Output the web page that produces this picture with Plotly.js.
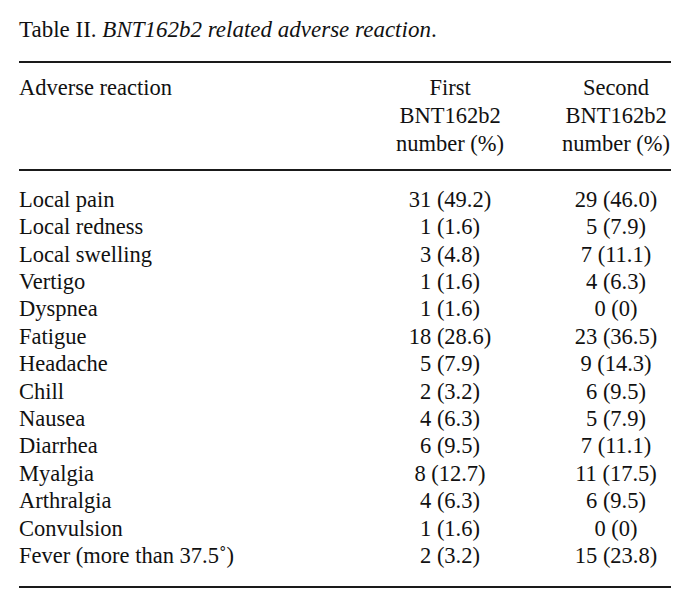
<!DOCTYPE html>
<html>
<head>
<meta charset="utf-8">
<script src="https://cdn.plot.ly/plotly-3.0.1.min.js"></script>
<style>
html,body{margin:0;padding:0;background:#fff;}
#chart{width:696px;height:612px;}
#chart .table text, #chart .table tspan{font-family:"Liberation Serif", "Times New Roman", serif !important;}
</style>
</head>
<body>
<div id="chart"></div>
<script>
const reactions = ["Local pain","Local redness","Local swelling","Vertigo","Dyspnea","Fatigue","Headache","Chill","Nausea","Diarrhea","Myalgia","Arthralgia","Convulsion","Fever (more than 37.5˚)"];
const firstN = [31,1,3,1,1,18,5,2,4,6,8,4,1,2];
const firstPct = [49.2,1.6,4.8,1.6,1.6,28.6,7.9,3.2,6.3,9.5,12.7,6.3,1.6,3.2];
const secondN = [29,5,7,4,0,23,9,6,5,7,11,6,0,15];
const secondPct = [46.0,7.9,11.1,6.3,0,36.5,14.3,9.5,7.9,11.1,17.5,9.5,0,23.8];
const headerCol1 = ["Adverse reaction","","",""];
const headerCol2 = ["First","BNT162b2","number (%)",""];
const headerCol3 = ["Second","BNT162b2","number (%)",""];
const titleText = "Table II. <i>BNT162b2 related adverse reaction</i>.";

function fmt(n, p){ return n + " (" + (p === 0 ? "0" : p.toFixed(1)) + ")"; }
const col2 = firstN.map((n,i)=>fmt(n, firstPct[i]));
const col3 = secondN.map((n,i)=>fmt(n, secondPct[i]));

const W = 696, H = 612;
const FONT = "Liberation Serif";
const FS = 22.5;
const HEADH = 28;
const ROWH = 27.4;
const tableTop = 70;

const trace = {
  type: "table",
  domain: {x:[11/W, 682/W], y:[0, 1 - tableTop/H]},
  columnwidth: [339, 200, 132],
  header: {
    values: [headerCol1, headerCol2, headerCol3],
    align: ["left","center","center"],
    height: HEADH,
    font: {family: FONT, size: FS, color: "#111"},
    fill: {color: "rgba(0,0,0,0)"},
    line: {width: 0, color: "rgba(0,0,0,0)"}
  },
  cells: {
    values: [reactions, col2, col3],
    align: ["left","center","center"],
    height: ROWH,
    font: {family: FONT, size: FS, color: "#111"},
    fill: {color: "rgba(0,0,0,0)"},
    line: {width: 0, color: "rgba(0,0,0,0)"}
  }
};

function rule(py){
  return {type:"line", xref:"paper", yref:"paper", x0:19/W, x1:671/W, y0:1-py/H, y1:1-py/H,
          line:{color:"#1a1a1a", width:1.8}};
}

const layout = {
  width: W, height: H,
  margin: {l:0, r:0, t:0, b:0},
  paper_bgcolor: "#fff",
  font: {family: FONT, color: "#111"},
  title: {text: titleText, x: 19/W, xanchor: "left", xref: "paper", y: 1 - 21/H, yanchor: "top", yref: "container",
          font: {family: FONT, size: 23, color: "#111"}},
  shapes: [rule(62), rule(170), rule(587)],
  showlegend: false
};

Plotly.newPlot("chart", [trace], layout, {displayModeBar: false, staticPlot: true});
</script>
</body>
</html>
